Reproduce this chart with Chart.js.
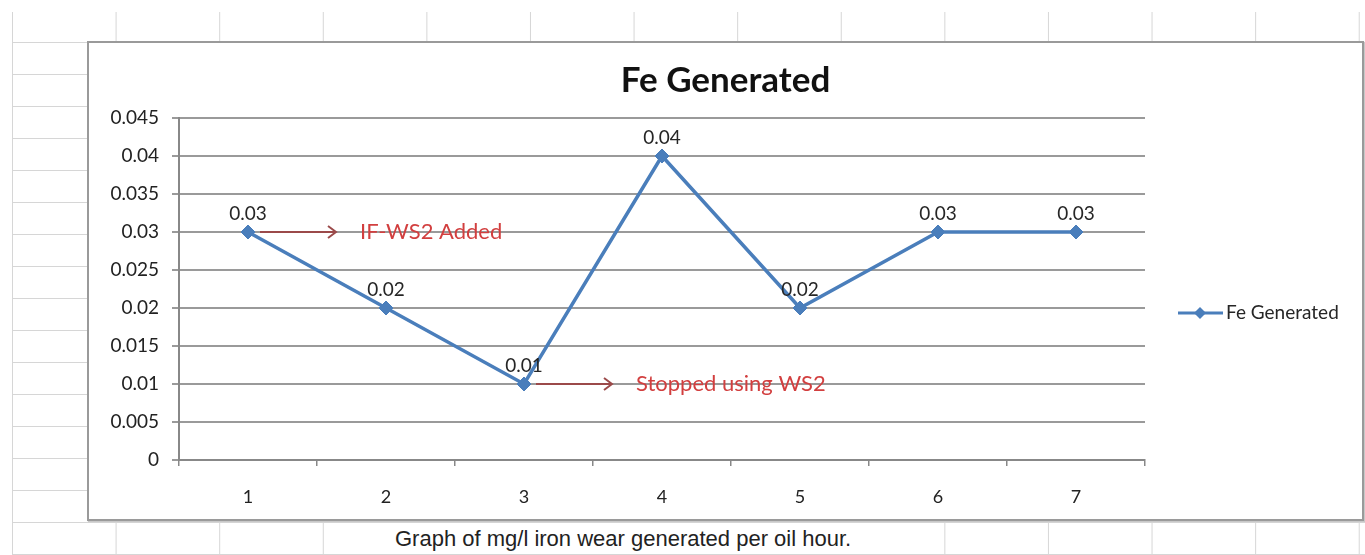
<!DOCTYPE html>
<html lang="en">
<head>
<meta charset="UTF-8">
<title>Fe Generated</title>
<script src="https://cdn.jsdelivr.net/npm/chart.js@4.4.1/dist/chart.umd.min.js"></script>
<style>
    html, body { margin: 0; padding: 0; background: #fff; }
    body { width: 1365px; height: 555px; position: relative; overflow: hidden; }
    .sheet {
        position: absolute; left: 12px; top: 12px; right: 0; bottom: 0;
        background-image: linear-gradient(to right, #d6d6d6 1px, transparent 1px),
                          linear-gradient(to bottom, #d6d6d6 1px, transparent 1px);
        background-size: 103.6px 100%, 100% 32px;
        background-position: 0 0, 0 30px;
    }
    .box {
        position: absolute; left: 87px; top: 41px; width: 1273px; height: 476px;
        border: 2px solid #9a9a9a; background: #fff;
        box-shadow: 1px 1px 1px #c8c8c8;
    }
    .caption-cell {
        position: absolute; left: 324px; top: 523px; width: 618px; height: 31px; background: #fff;
    }
    .caption {
        position: absolute; left: 395px; top: 526px; white-space: nowrap;
        font: 22px "Liberation Sans", Arial, sans-serif; color: #222;
    }
</style>
</head>
<body>
<div class="sheet"></div>
<div class="caption-cell"></div>
<div class="caption">Graph of mg/l iron wear generated per oil hour.</div>
<div class="box">
    <canvas id="fe-chart"></canvas>
</div>
<script>
    const categories = ['1', '2', '3', '4', '5', '6', '7'];
    const feGenerated = [0.03, 0.02, 0.01, 0.04, 0.02, 0.03, 0.03];
    const pointLabels = ['0.03', '0.02', '0.01', '0.04', '0.02', '0.03', '0.03'];

    const yTickValues = [0, 0.005, 0.01, 0.015, 0.02, 0.025, 0.03, 0.035, 0.04, 0.045];
    const yTickLabels = ['0', '0.005', '0.01', '0.015', '0.02', '0.025', '0.03', '0.035', '0.04', '0.045'];

    // notes written on the chart: text, category index the arrow starts from, value level
    const noteLabels = ['IF-WS2 Added', 'Stopped using WS2'];
    const noteCategory = [0, 2];
    const noteValue = [0.03, 0.01];

    const blue = '#4a7ebb';

    const notesPlugin = {
        id: 'notes',
        beforeDatasetsDraw(chart) {
            const ctx = chart.ctx;
            const x = chart.scales.x, y = chart.scales.y;
            ctx.save();
            noteLabels.forEach((txt, i) => {
                const px = x.getPixelForValue(noteCategory[i]);
                const py = y.getPixelForValue(noteValue[i]);
                ctx.strokeStyle = '#9b4a4a';
                ctx.lineWidth = 2;
                ctx.beginPath();
                ctx.moveTo(px + 12, py);
                ctx.lineTo(px + 88, py);
                ctx.moveTo(px + 80, py - 6);
                ctx.lineTo(px + 88, py);
                ctx.lineTo(px + 80, py + 6);
                ctx.stroke();
                ctx.fillStyle = '#d23f3f';
                ctx.font = '22px Lato';
                ctx.textAlign = 'left';
                ctx.textBaseline = 'middle';
                ctx.fillText(txt, px + 112, py);
            });
            ctx.restore();
        },
        afterDatasetsDraw(chart) {
            const ctx = chart.ctx;
            const meta = chart.getDatasetMeta(0);
            ctx.save();
            ctx.font = '19px Lato';
            ctx.fillStyle = '#262626';
            ctx.textAlign = 'center';
            ctx.textBaseline = 'middle';
            meta.data.forEach((pt, i) => {
                ctx.fillText(pointLabels[i], pt.x, pt.y - 18);
            });

            // legend on the right
            const area = chart.chartArea;
            const lx = area.right + 33;
            const ly = (area.top + area.bottom) / 2 + 24;
            ctx.strokeStyle = blue;
            ctx.lineWidth = 3;
            ctx.beginPath();
            ctx.moveTo(lx, ly);
            ctx.lineTo(lx + 45, ly);
            ctx.stroke();
            ctx.fillStyle = blue;
            ctx.beginPath();
            ctx.moveTo(lx + 22, ly - 6);
            ctx.lineTo(lx + 28, ly);
            ctx.lineTo(lx + 22, ly + 6);
            ctx.lineTo(lx + 16, ly);
            ctx.closePath();
            ctx.fill();
            ctx.fillStyle = '#262626';
            ctx.textAlign = 'left';
            ctx.font = '19px Lato';
            ctx.fillText(chart.data.datasets[0].label, lx + 48, ly);
            ctx.restore();
        }
    };

    const chart = new Chart(document.getElementById('fe-chart'), {
        type: 'line',
        data: {
            labels: categories,
            datasets: [{
                label: 'Fe Generated',
                data: feGenerated,
                borderColor: blue,
                backgroundColor: blue,
                borderWidth: 3.5,
                tension: 0,
                fill: false,
                pointStyle: 'rectRot',
                pointRadius: 7,
                pointBorderWidth: 1,
                pointBackgroundColor: blue,
                pointBorderColor: blue
            }]
        },
        options: {
            responsive: true,
            maintainAspectRatio: false,
            animation: false,
            layout: { padding: 0 },
            plugins: {
                legend: { display: false },
                tooltip: { enabled: false },
                title: {
                    display: true,
                    text: 'Fe Generated',
                    color: '#111',
                    font: { family: 'Lato', size: 35, weight: 'bold' },
                    padding: { top: 17, bottom: 16 }
                }
            },
            scales: {
                x: {
                    offset: true,
                    grid: { display: true, drawOnChartArea: false, offset: true, tickLength: 6, color: '#888', lineWidth: 1.5 },
                    border: { display: true, color: '#888', width: 2 },
                    ticks: { color: '#222', font: { family: 'Lato', size: 18 }, padding: 20, maxRotation: 0 },
                    afterFit: (s) => { s.height = 59; }
                },
                y: {
                    min: 0,
                    max: 0.045,
                    afterBuildTicks: (s) => { s.ticks = yTickValues.map(v => ({ value: v })); },
                    grid: { color: '#9a9a9a', lineWidth: 2, tickLength: 7 },
                    border: { display: true, color: '#888', width: 2 },
                    ticks: {
                        color: '#222',
                        font: { family: 'Lato', size: 19 },
                        padding: 13,
                        callback: (v, i) => yTickLabels[i]
                    },
                    afterFit: (s) => { s.width = 90; }
                },
                // empty scale on the right that keeps room for the legend
                legendSpace: {
                    position: 'right',
                    display: true,
                    grid: { display: false },
                    border: { display: false },
                    ticks: { display: false },
                    afterFit: (s) => { s.width = 217; }
                }
            }
        },
        plugins: [notesPlugin]
    });
</script>
</body>
</html>
